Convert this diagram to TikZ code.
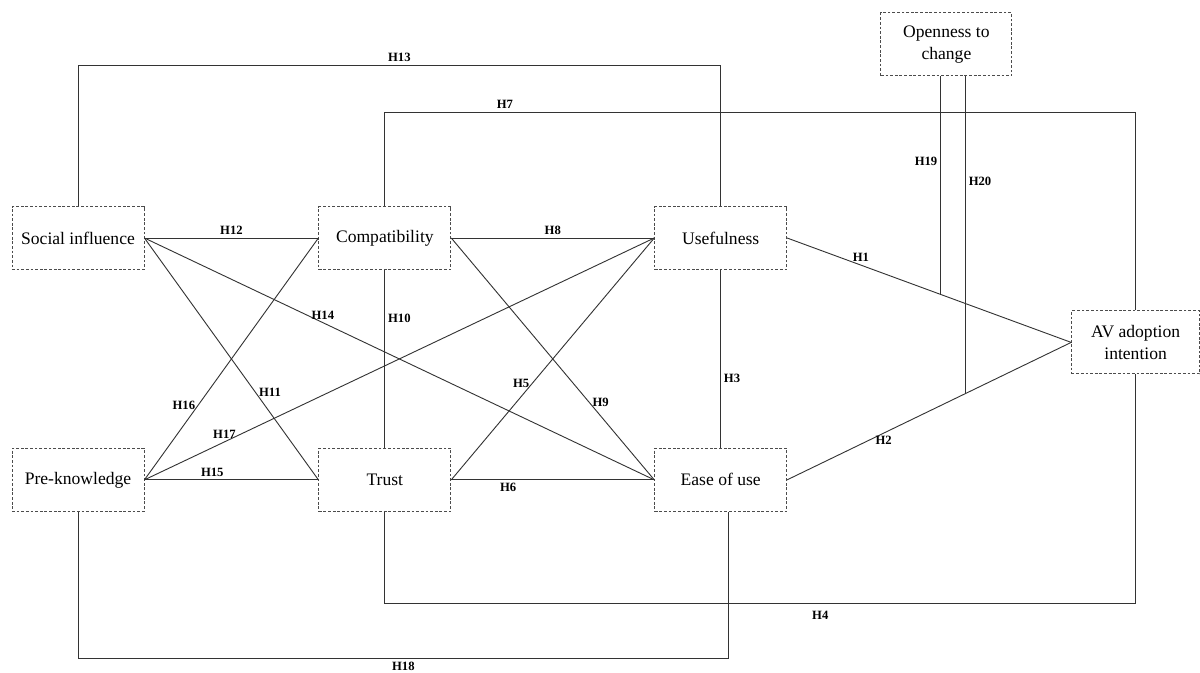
\documentclass[tikz,border=0pt]{standalone}
\usepackage{fontspec}
\setmainfont{Liberation Serif}
\usetikzlibrary{positioning,calc}

\begin{document}
\begin{tikzpicture}[
    factor/.style={rectangle, draw=black!70, dash pattern=on 2pt off 1.3pt,
        line width=0.6pt, minimum width=3.3cm, minimum height=1.575cm,
        inner sep=2pt, font=\fontsize{12.5}{16}\selectfont, align=center,
        text=black},
    link/.style={draw=black!80, line width=0.65pt},
    hyp/.style={font=\fontsize{9}{10}\selectfont\bfseries, text=black,
        inner sep=2pt},
]
\useasboundingbox (0,0) rectangle (30,-16.8);

% ── Upper row ──
\node[factor] (social) at (1.95,-5.95) {Social influence};
\node[factor, right=4.35cm of social] (compat) {Compatibility};
\node[factor, right=5.075cm of compat] (useful) {Usefulness};

% ── Lower row ──
\node[factor, below=4.45cm of social] (pre) {Pre-knowledge};
\node[factor, right=4.35cm of pre] (trust) {Trust};
\node[factor, right=5.075cm of trust] (ease) {Ease of use};

% ── Outcome and moderator ──
\node[factor, minimum width=3.2cm] (av) at (28.39,-8.56)
    {AV adoption\\intention};
\node[factor, minimum width=3.275cm] (open) at (23.66,-1.11)
    {Openness to\\change};

% ── Paths to adoption intention ──
\draw[link] (useful.east) -- (av.west) coordinate[pos=0.54] (h1mod)
    node[hyp, pos=0.26, above] {H1};
\draw[link] (ease.east) -- (av.west) coordinate[pos=0.628] (h2mod)
    node[hyp, pos=0.34, below] {H2};
\draw[link] (trust.south) -- ++(0,-2.3) -| (av.south)
    node[hyp, pos=0.29, below=3pt] {H4};
\draw[link] (compat.north) -- ++(0,2.35) -| (av.north)
    node[hyp, pos=0.08, above] {H7};

% ── Paths between the factors ──
\draw[link] (useful) -- (ease) node[hyp, pos=0.61, right] {H3};
\draw[link] (trust.east) -- (useful.west) node[hyp, pos=0.4, left] {H5};
\draw[link] (trust.east) -- (ease.west) node[hyp, pos=0.28, below] {H6};
\draw[link] (compat.east) -- (useful.west) node[hyp, midway, above] {H8};
\draw[link] (compat.east) -- (ease.west) node[hyp, pos=0.68, right] {H9};
\draw[link] (compat) -- (trust) node[hyp, pos=0.27, right] {H10};
\draw[link] (social.east) -- (trust.west) node[hyp, pos=0.64, right] {H11};
\draw[link] (social.east) -- (compat.west) node[hyp, midway, above] {H12};
\draw[link] (social.north) -- ++(0,3.525) -| (useful.north)
    node[hyp, pos=0.25, above] {H13};
\draw[link] (social.east) -- (ease.west) node[hyp, pos=0.35, above] {H14};
\draw[link] (pre.east) -- (trust.west) node[hyp, pos=0.39, above] {H15};
\draw[link] (pre.east) -- (compat.west) node[hyp, pos=0.31, left] {H16};
\draw[link] (pre.east) -- (useful.west) node[hyp, pos=0.157, above] {H17};
\draw[link] (pre.south) -- ++(0,-3.675) -| ([xshift=0.2cm]ease.south)
    node[hyp, pos=0.25, below] {H18};

% ── Moderation ──
\draw[link] (h1mod |- open.south) -- (h1mod)
    node[hyp, pos=0.39, left] {H19};
\draw[link] (h2mod |- open.south) -- (h2mod)
    node[hyp, pos=0.33, right] {H20};

\end{tikzpicture}
\end{document}
